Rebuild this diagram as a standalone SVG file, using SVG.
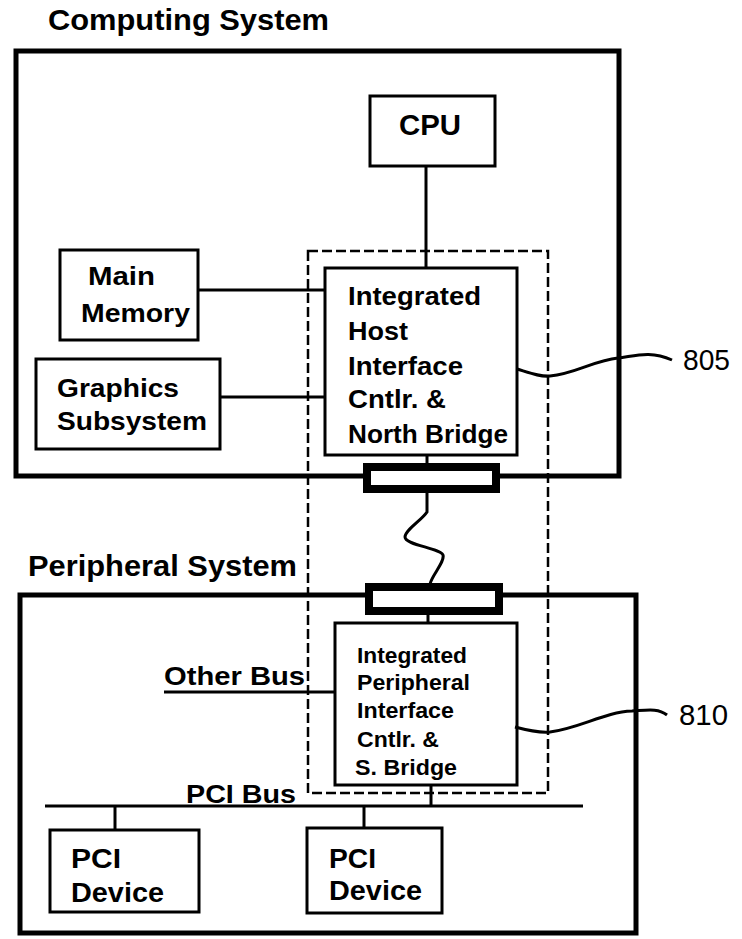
<svg xmlns="http://www.w3.org/2000/svg" width="742" height="939" viewBox="0 0 742 939">
<style>
text{font-family:"Liberation Sans",Arial,sans-serif;font-weight:bold;fill:#000}
.title{font-size:30px;font-weight:900}
.box{fill:none;stroke:#000;stroke-width:3}
.outer{fill:none;stroke:#000;stroke-width:5}
.blk{fill:#fff;stroke:#000;stroke-width:8}
.dash{fill:none;stroke:#000;stroke-width:2.5;stroke-dasharray:10 4}
.ln{fill:none;stroke:#000;stroke-width:3}
.sq{fill:none;stroke:#000;stroke-width:3}
.num{font-weight:normal;font-size:29px}
.t24{font-size:25px}
.t21{font-size:22px}
.t26{font-size:27px}
</style>
<rect width="742" height="939" fill="#fff"/>

<g id="computing-system">
<text class="title" x="48" y="30" textLength="281" lengthAdjust="spacingAndGlyphs">Computing System</text>
<rect class="outer" x="16" y="51" width="603" height="425"/>
</g>

<g id="peripheral-system">
<text class="title" x="28" y="576" textLength="269" lengthAdjust="spacingAndGlyphs">Peripheral System</text>
<rect class="outer" x="20" y="595" width="616" height="338"/>
</g>

<g id="integration-boundary">
<rect class="dash" x="308" y="251" width="240" height="542"/>
</g>

<g id="connectors">
<line class="ln" x1="426" y1="166" x2="426" y2="268"/>
<line class="ln" x1="198" y1="290" x2="325" y2="290"/>
<line class="ln" x1="220" y1="397" x2="325" y2="397"/>
<line class="ln" x1="427" y1="455" x2="427" y2="467"/>
<path class="sq" d="M427,493 L427,512 C422,520 405,530 405,537 C405,545 440,548 443,555 C445,562 432,575 430,584"/>
<line class="ln" x1="428" y1="611" x2="428" y2="623"/>
<line class="ln" x1="164" y1="692" x2="335" y2="692"/>
<line class="ln" x1="431" y1="785" x2="431" y2="806"/>
<line class="ln" x1="45" y1="806" x2="583" y2="806"/>
<line class="ln" x1="115" y1="806" x2="115" y2="830"/>
<line class="ln" x1="364" y1="806" x2="364" y2="828"/>
<path class="sq" d="M517,369 C530,373 540,377 550,376 C575,374 595,360 618,358 C635,356 650,350 672,360"/>
<path class="sq" d="M515,727 C530,731 540,733 550,732 C580,728 605,712 632,711 C648,710 658,708 667,715"/>
</g>

<g id="cpu">
<rect class="box" x="370" y="96" width="125" height="70"/>
<text x="399" y="135" font-size="29" textLength="62" lengthAdjust="spacingAndGlyphs">CPU</text>
</g>

<g id="main-memory">
<rect class="box" x="60" y="250" width="138" height="90"/>
<text class="t24" x="88" y="285" textLength="67" lengthAdjust="spacingAndGlyphs">Main</text>
<text class="t24" x="81" y="322" textLength="109" lengthAdjust="spacingAndGlyphs">Memory</text>
</g>

<g id="graphics-subsystem">
<rect class="box" x="36" y="359" width="184" height="90"/>
<text class="t24" x="57" y="397" textLength="122" lengthAdjust="spacingAndGlyphs">Graphics</text>
<text class="t24" x="57" y="430" textLength="150" lengthAdjust="spacingAndGlyphs">Subsystem</text>
</g>

<g id="north-bridge">
<rect class="box" x="325" y="268" width="192" height="187"/>
<text class="t24" x="348" y="305" textLength="133" lengthAdjust="spacingAndGlyphs">Integrated</text>
<text class="t24" x="348" y="340" textLength="60" lengthAdjust="spacingAndGlyphs">Host</text>
<text class="t24" x="348" y="375" textLength="115" lengthAdjust="spacingAndGlyphs">Interface</text>
<text class="t24" x="348" y="408" textLength="98" lengthAdjust="spacingAndGlyphs">Cntlr. &amp;</text>
<text class="t24" x="348" y="443" textLength="160" lengthAdjust="spacingAndGlyphs">North Bridge</text>
</g>

<g id="host-link-port">
<rect class="blk" x="367" y="467" width="129" height="22"/>
</g>

<g id="peripheral-link-port">
<rect class="blk" x="369" y="587" width="130" height="24"/>
</g>

<g id="south-bridge">
<rect class="box" x="335" y="623" width="182" height="162"/>
<text class="t21" x="357" y="663" textLength="110" lengthAdjust="spacingAndGlyphs">Integrated</text>
<text class="t21" x="357" y="690" textLength="113" lengthAdjust="spacingAndGlyphs">Peripheral</text>
<text class="t21" x="357" y="718" textLength="97" lengthAdjust="spacingAndGlyphs">Interface</text>
<text class="t21" x="357" y="747" textLength="82" lengthAdjust="spacingAndGlyphs">Cntlr. &amp;</text>
<text class="t21" x="355" y="775" textLength="102" lengthAdjust="spacingAndGlyphs">S. Bridge</text>
</g>

<g id="other-bus">
<text class="t24" x="164" y="685" textLength="141" lengthAdjust="spacingAndGlyphs">Other Bus</text>
</g>

<g id="pci-bus">
<text class="t24" x="186" y="803" textLength="110" lengthAdjust="spacingAndGlyphs">PCI Bus</text>
</g>

<g id="pci-device-1">
<rect class="box" x="50" y="830" width="149" height="82"/>
<text class="t26" x="71" y="868" textLength="50" lengthAdjust="spacingAndGlyphs">PCI</text>
<text class="t26" x="71" y="902" textLength="93" lengthAdjust="spacingAndGlyphs">Device</text>
</g>

<g id="pci-device-2">
<rect class="box" x="307" y="828" width="135" height="85"/>
<text class="t26" x="329" y="868" textLength="47" lengthAdjust="spacingAndGlyphs">PCI</text>
<text class="t26" x="329" y="900" textLength="93" lengthAdjust="spacingAndGlyphs">Device</text>
</g>

<g id="label-805">
<text class="num" x="683" y="370" textLength="47" lengthAdjust="spacingAndGlyphs">805</text>
</g>

<g id="label-810">
<text class="num" x="679" y="725" textLength="49" lengthAdjust="spacingAndGlyphs">810</text>
</g>
</svg>
